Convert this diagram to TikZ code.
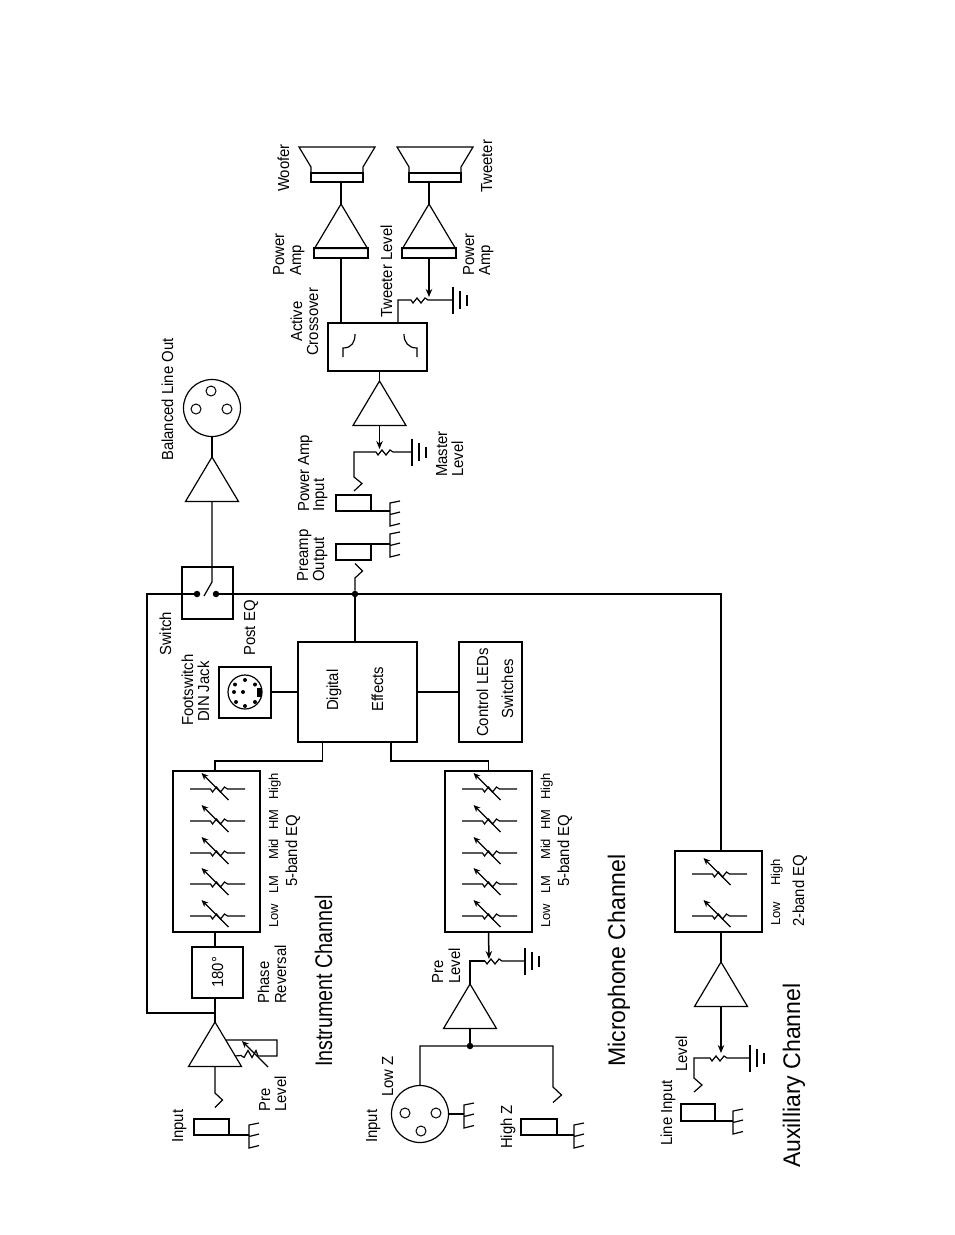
\documentclass[tikz,border=0pt]{standalone}
\usepackage{fontspec}
\usetikzlibrary{arrows.meta,calc}
\setmainfont{Liberation Sans}
\newfontfamily\bigf[FakeStretch=0.96]{Liberation Sans}
\newfontfamily\nrwf[FakeStretch=0.82]{Liberation Sans}
\newfontfamily\midf[FakeStretch=0.93]{Liberation Sans}
\newcommand\zg{-- ++(2,3) -- ++(4,-5) -- ++(4,5) -- ++(4,-5) -- ++(3,2)}
\tikzset{
  wire/.style={line width=1.2pt,line join=miter},
  hw/.style={line width=1.7pt,line join=miter},
  arr/.style={line width=1.5pt,-{Stealth[length=8pt,width=6.5pt]}},
  bx/.style={draw,line width=1.2pt,inner sep=0pt},
  tbx/.style={draw,line width=1.9pt,inner sep=0pt},
  lbl/.style={rotate=90,anchor=base west,inner sep=0pt,font=\midf\fontsize{16}{18}\selectfont},
  tiny/.style={rotate=90,anchor=base west,inner sep=0pt,font=\fontsize{13}{15}\selectfont},
  title/.style={rotate=90,anchor=base west,inner sep=0pt,font=\bigf\fontsize{24}{26}\selectfont},
  ntitle/.style={rotate=90,anchor=base west,inner sep=0pt,font=\nrwf\fontsize{24}{26}\selectfont},
  dot/.style={circle,fill=black,inner sep=0pt,minimum size=6.5pt},
  hole/.style={circle,draw,line width=1pt,inner sep=0pt,minimum size=10pt},
  pin/.style={circle,fill=black,inner sep=0pt,minimum size=4pt},
  xlr/.style={circle,draw,line width=1.2pt,inner sep=0pt,minimum size=57pt},
}
% amplifier triangle: name, centre x, apex y
\newcommand\ampl[3]{%
  \coordinate (#1o) at (#2,#3);
  \coordinate (#1i) at (#2,#3+44.5);
  \draw[wire] (#1o) -- (#2+26.5,#3+44.5) -- (#2-26.5,#3+44.5) -- cycle;}
% variable resistor
\newcommand\vres[2]{%
  \draw[wire] (#1-26.5,#2) -- (#1-6,#2) \zg -- (#1+28.5,#2);
  \draw[line width=1.2pt,-{Stealth[length=7pt,width=6pt]}] (#1+12,#2+11) -- (#1-15,#2-16);}
% earth symbol
\newcommand\gnd[2]{%
  \draw[wire] (#1,#2-13.5) -- (#1,#2+13.5)
    (#1+7,#2-9) -- (#1+7,#2+9)
    (#1+14,#2-5.5) -- (#1+14,#2+5.5);}
% chassis symbol: x, y top
\newcommand\chas[2]{%
  \draw[wire] (#1+10,#2-2) -- (#1,#2) -- (#1,#2+23)  -- (#1+10,#2+20.5)
    (#1,#2+11.5) -- (#1+10,#2+9);}
% speaker: name, left x
\newcommand\spk[2]{%
  \node[bx,minimum width=52pt,minimum height=9pt] (#1) at (#2+26,177.5) {};
  \draw[wire] (#2,173) -- (#2,167) -- (#2-12,147) -- (#2+64,147) -- (#2+52,167) -- (#2+52,173);}
\begin{document}
\begin{tikzpicture}[x=1pt,y=-1pt]
\useasboundingbox (0,0) rectangle (954,1235);
\fill[white] (0,0) rectangle (954,1235);

% ---------- boxes
\node[bx,minimum width=51pt,minimum height=51pt] (phase) at (217.5,972.5) {};
\node[tbx,minimum width=87pt,minimum height=161pt] (eqA) at (216.5,851.5) {};
\node[tbx,minimum width=87pt,minimum height=161pt] (eqB) at (488.5,851.5) {};
\node[tbx,minimum width=87pt,minimum height=81pt] (eqC) at (718.5,891.5) {};
\node[tbx,minimum width=119pt,minimum height=100pt] (dfx) at (357.5,692) {};
\node[tbx,minimum width=63pt,minimum height=100pt] (ctl) at (490.5,692) {};
\node[bx,minimum width=51pt,minimum height=52pt] (sw) at (207.5,593) {};
\node[tbx,minimum width=52pt,minimum height=51pt] (din) at (245,692.5) {};
\node[tbx,minimum width=99pt,minimum height=48pt] (xo) at (377.5,347) {};
\node[bx,minimum width=54pt,minimum height=10pt] (pwA) at (341,253) {};
\node[bx,minimum width=54pt,minimum height=10pt] (pwB) at (429,253) {};
\spk{wf}{311}
\spk{tw}{409}

% jacks
\node[tbx,minimum width=35pt,minimum height=16pt] (jA) at (211.5,1127) {};
\node[tbx,minimum width=36pt,minimum height=16pt] (jB) at (539,1127) {};
\node[bx,minimum width=34pt,minimum height=17pt] (jC) at (698,1112.5) {};
\node[tbx,minimum width=35pt,minimum height=16pt] (jD) at (353.5,552) {};
\node[bx,minimum width=35pt,minimum height=16pt] (jE) at (353.5,503) {};

% XLR connectors
\node[xlr] (xin) at (420,1114) {};
\node[hole] (xa) at (405,1113) {};
\node[hole] (xb) at (436,1113) {};
\node[hole] (xc) at (421,1131) {};
\node[xlr] (xout) at (212,408) {};
\node[hole] (ya) at (196,409) {};
\node[hole] (yb) at (227,409) {};
\node[hole] (yc) at (211,391) {};

% DIN
\node[circle,draw,line width=1.2pt,inner sep=0pt,minimum size=34pt] (dj) at (245,692) {};
\foreach \n/\px/\py in {a/245/680,b/255/684.5,c/235/684.5,d/234/692,e/243/692,f/236/702,g/245/706,h/255/702}
  \node[pin] (din\n) at (\px,\py) {};
\fill (257,688) rectangle (262,697);

% ---------- amplifiers
\ampl{aI}{215}{1022}
\ampl{aM}{470}{984}
\ampl{aX}{721}{962}
\ampl{aB}{212}{457}
\ampl{aC}{379.5}{381}
\ampl{aW}{341}{204}
\ampl{aT}{429}{204}

% ---------- variable resistors
\foreach \cy in {789,821,853,884,916} {
  \vres{216.5}{\cy}
  \vres{488.5}{\cy}
}
\vres{718.5}{874}
\vres{718.5}{916}

% ---------- instrument channel
\draw[wire] (aIi) -- (215,1093) -- ++(7.5,7) -- ++(-7.5,7.5);
\chas{249}{1125}
\draw[wire] (jA.east |- 0,1135) -- (249,1135);
\coordinate (jI) at (215,1013);
\draw[hw] (aIo) -- (aIo |- phase.south);
\draw[wire] (jI) -- (147,1013) -- (147,594) -- (197,594);
\draw[hw] (phase.north -| 215,0) -- (215,932);
\draw[wire] (226,1040) -- (277,1040) -- (277,1056) -- (258,1056) -- ++(-2,-5.5) -- ++(-4,7) -- ++(-4,-7) -- ++(-4,7) -- ++(-3,-2) -- (235,1056);
\draw[line width=1.2pt,-{Stealth[length=7pt,width=6pt]}] (268,1067) -- (242,1041);

% ---------- eq to effects
\coordinate (bus) at (0,761);
\coordinate (dfxA) at (322.5,742);
\coordinate (dfxB) at (391,742);
\draw[wire] (215,771) -- (215,761) -- (dfxA |- bus) -- (dfxA);
\draw[wire] (dfxB) -- (dfxB |- bus) -- (eqB.north |- bus) -- (eqB.north);

% ---------- effects neighbours
\draw[hw] (din.east |- 0,692) -- (dfx.west |- 0,692);
\draw[hw] (dfx.east) -- (ctl.west);

% ---------- main bus, switch
\node[dot] (sa) at (197,594) {};
\node[dot] (sb) at (216,594) {};
\node[dot] (jm) at (355,594) {};
\draw[wire] (sb) -- (jm) -- (721,594) -- (721,851);
\draw[wire] (204,596) -- (212,582) -- (aBi);
\draw[wire] (aBo) -- (xout.south);
\draw[wire] (jm) -- (355,642);
\draw[wire] (jm) -- (355,578) -- ++(7.5,-7) -- ++(-7.5,-7.5);

% ---------- preamp / power amp jacks
\chas{390}{534}
\draw[wire] (371,544) -- (390,544);
\chas{390}{503}
\draw[wire] (371,511) -- (390,511);
\draw[wire] (354,491) -- (362,483.5) -- (354,477) -- (354,452) -- (376,452) \zg -- (412,452);
\gnd{412}{452}
\draw[arr] (aCi) -- (379.5,449);
\draw[wire] (aCo) -- (aCo |- xo.south);

% ---------- crossover, woofer, tweeter
\draw[hw] (341,323) -- (pwA.south);
\draw[hw] (aWo) -- (aWo |- wf.south);
\draw[hw] (aTo) -- (aTo |- tw.south);
\draw[arr] (pwB.south) -- (429,297);
\draw[wire] (398,323) -- (398,300) -- (411,300) \zg -- (452,300);
\gnd{453}{300}
\draw[wire] (343,357) -- (343,348) .. controls (352,348) and (355,342) .. (355,334);
\draw[wire] (417,357) -- (417,348) .. controls (408,348) and (404,342) .. (404,334);

% ---------- microphone channel
\node[dot] (jz) at (470,1046) {};
\draw[hw] (aMi) -- (jz);
\draw[wire] (xin.north) -- (420,1046) -- (553,1046) -- (553,1087) -- ++(8.5,8) -- ++(-8.5,7.5);
\chas{464}{1105}
\draw[wire] (xin.east) -- (464,1114);
\chas{574}{1125}
\draw[wire] (jB.east |- 0,1135) -- (574,1135);
\draw[arr] (eqB.south) -- (489,959);
\draw[hw] (aMo) -- (470,961) -- (485,961);
\draw[wire] (485,961) \zg -- (525,961);
\gnd{525}{961}

% ---------- auxiliary channel
\draw[hw] (aXo) -- (721,932);
\draw[arr] (aXi) -- (721,1053);
\draw[wire] (694,1092) -- (702,1085) -- (694,1078) -- (694,1058) -- (710,1058) \zg -- (750,1058);
\gnd{750}{1058}
\chas{733}{1111}
\draw[wire] (715,1121) -- (733,1121);

% ---------- labels
\node[lbl] (t1) at (183,1143) {Input};
\node[lbl] (t2) at (270,1112) {Pre};
\node[lbl] (t3) at (286,1112) {Level};
\node[lbl] (t4) at (269,1004) {Phase};
\node[lbl] (t5) at (286,1004) {Reversal};
\node[lbl] (t6) at (223,988) {180°};
\node[lbl] (t7) at (171,656) {Switch};
\node[lbl] (t8) at (255,656) {Post EQ};
\node[lbl] (t9) at (193,726) {Footswitch};
\node[lbl] (t10) at (209,722) {DIN Jack};
\node[lbl] (t11) at (309,512) {Power Amp};
\node[lbl] (t12) at (324,512) {Input};
\node[lbl] (t13) at (308,582) {Preamp};
\node[lbl] (t14) at (324,582) {Output};
\node[lbl] (t15) at (447,477) {Master};
\node[lbl] (t16) at (463,477) {Level};
\node[lbl] (t17) at (289,192) {Woofer};
\node[lbl] (t18) at (492,193) {Tweeter};
\node[lbl] (t19) at (284,276) {Power};
\node[lbl] (t20) at (301,276) {Amp};
\node[lbl] (t21) at (474,276) {Power};
\node[lbl] (t22) at (490,276) {Amp};
\node[lbl] (t23) at (392,318) {Tweeter Level};
\node[lbl] (t24) at (302,342) {Active};
\node[lbl] (t25) at (318,356) {Crossover};
\node[lbl] (t26) at (393,1097) {Low Z};
\node[lbl] (t27) at (377,1143) {Input};
\node[lbl] (t28) at (512,1149) {High Z};
\node[lbl] (t29) at (443,984) {Pre};
\node[lbl] (t30) at (460,984) {Level};
\node[lbl] (t31) at (672,1146) {Line Input};
\node[lbl] (t32) at (687,1072) {Level};
\node[lbl] (t33) at (173,461) {Balanced Line Out};
\node[lbl] (t34) at (338,711) {Digital};
\node[lbl] (t35) at (383,712) {Effects};
\node[lbl] (t36) at (488,737) {Control LEDs};
\node[lbl] (t37) at (513,719) {Switches};
\node[lbl] (t38) at (297,887) {5-band EQ};
\node[lbl] (t39) at (569,887) {5-band EQ};
\node[lbl] (t40) at (804,927) {2-band EQ};
\foreach \n/\lx in {p/278,q/550} {
  \node[tiny] (\n a) at (\lx,928) {Low};
  \node[tiny] (\n b) at (\lx,894) {LM};
  \node[tiny] (\n c) at (\lx,860) {Mid};
  \node[tiny] (\n d) at (\lx,830) {HM};
  \node[tiny] (\n e) at (\lx,800) {High};
}
\node[tiny] (ra) at (780,926) {Low};
\node[tiny] (rb) at (780,886) {High};
\node[ntitle] (h1) at (332,1067) {Instrument Channel};
\node[title] (h2) at (625,1067) {Microphone Channel};
\node[title] (h3) at (800,1168) {Auxilliary Channel};
\end{tikzpicture}
\end{document}
